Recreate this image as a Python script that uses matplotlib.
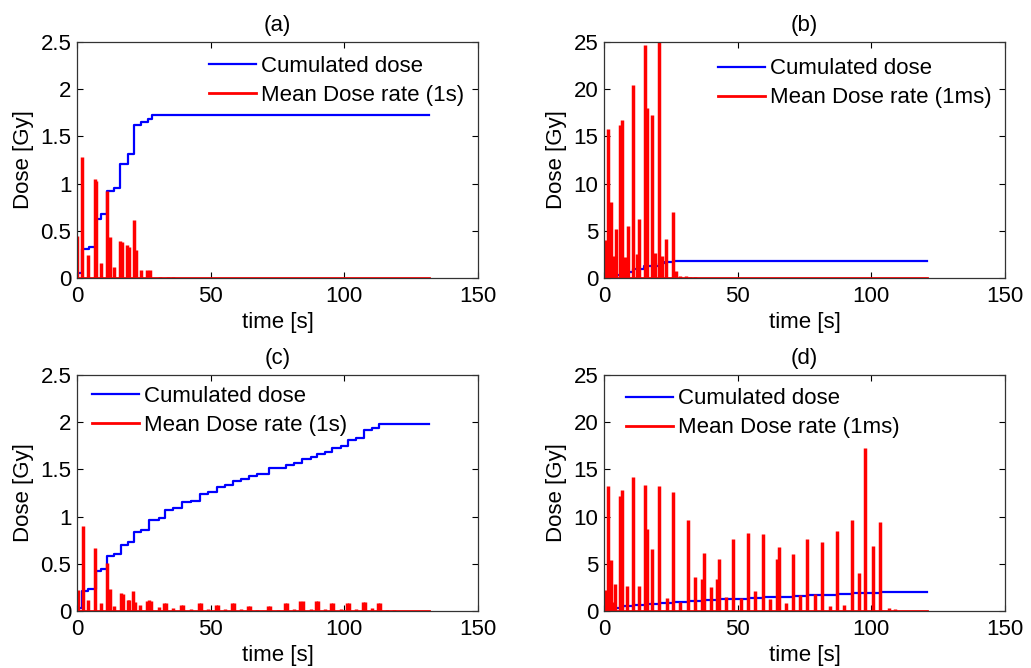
import matplotlib
matplotlib.use("Agg")
import matplotlib.pyplot as plt
import numpy as np

plt.rcParams['font.family'] = ['Liberation Sans', 'DejaVu Sans']
FS = 16

# ---------------- data ----------------
# (a) 1 s mean dose rate, first irradiation
a_rate_t = [0, 2, 4.2, 6.8, 7.2, 9, 11.4, 12.2, 14, 16, 16.8, 18.8, 19.6, 21.4, 22.1, 24, 26.3, 27.3, 31, 34, 36]
a_rate_v = [0.45, 1.28, 0.24, 1.05, 1.03, 0.16, 0.92, 0.43, 0.12, 0.39, 0.38, 0.35, 0.33, 0.61, 0.30, 0.08, 0.09, 0.09, 0.015, 0.015, 0.01]
a_end = 131.8
a_cum_t = [0, 2, 4.5, 7, 9, 11.4, 14, 16, 19, 21.4, 24, 26.5, 28, 131.8]
a_cum_v = [0.05, 0.31, 0.33, 0.63, 0.68, 0.92, 0.95, 1.21, 1.31, 1.62, 1.655, 1.68, 1.73, 1.73]

# (b) 1 ms mean dose rate, first irradiation
b_rate_t = [0.4, 1.6, 2.6, 3.7, 4.5, 6.0, 6.6, 7.9, 8.9, 11.0, 12.2, 13.2, 15.3, 16.2, 18.0, 19.1, 20.6, 21.6, 23.2, 25.9, 26.9, 28.5, 30.5, 32, 34]
b_rate_v = [4.0, 15.8, 8.0, 2.3, 5.2, 16.2, 16.7, 2.2, 5.5, 20.4, 2.5, 6.2, 24.7, 18.0, 17.3, 2.6, 26.0, 2.3, 4.1, 7.0, 0.7, 0.25, 0.2, 0.15, 0.15]
b_end = 120.7
b_cum_t = [0, 2, 7, 11, 15, 20.5, 23, 26, 120.7]
b_cum_v = [0.15, 0.35, 0.67, 0.95, 1.25, 1.6, 1.7, 1.82, 1.82]

# (c) 1 s mean dose rate, second irradiation
c_rate_t = [0.2, 2.1, 4.2, 6.8, 9, 11.4, 12.3, 14, 16.3, 17.1, 19.0, 19.6, 21.1, 21.8, 23.6, 26.2, 27.0, 27.8, 30.6,
            32.6, 33.4, 36, 39.0, 39.8, 42.5, 45.5, 46.3, 49, 52.0, 52.8, 55.5, 57.8, 58.6, 61.5, 63.8, 64.6, 67.5,
            71.3, 72.1, 75, 77.9, 78.7, 81, 83.6, 84.4, 87.4, 89.5, 90.3, 92.9, 95.0, 95.8, 98.6, 101.1, 101.9, 104.5,
            107.0, 107.8, 110.2, 112.7, 113.5, 115.9, 118.6]
c_rate_v = [0.22, 0.90, 0.12, 0.67, 0.08, 0.51, 0.23, 0.05, 0.19, 0.18, 0.12, 0.12, 0.21, 0.10, 0.06, 0.11, 0.12, 0.11, 0.04,
            0.08, 0.08, 0.03, 0.06, 0.06, 0.02, 0.08, 0.08, 0.02, 0.06, 0.06, 0.02, 0.08, 0.08, 0.02, 0.05, 0.05, 0.01,
            0.05, 0.05, 0.01, 0.09, 0.09, 0.02, 0.11, 0.11, 0.02, 0.11, 0.11, 0.02, 0.09, 0.09, 0.02, 0.09, 0.09, 0.02,
            0.10, 0.10, 0.03, 0.08, 0.08, 0.015, 0.01]
c_end = 131.8
c_cum_t = [0, 2, 4.2, 7, 9, 11.4, 14, 16.5, 19, 21.4, 24, 27, 30.6, 33, 36, 39.4, 42.5, 46, 49, 52.4, 55.5, 58.2,
           61.5, 64.2, 67.5, 71.7, 75, 78.3, 81, 84, 87.4, 89.9, 92.9, 95.4, 98.6, 101.5, 104.5, 107.4, 110.2, 113.1, 131.8]
c_cum_v = [0.03, 0.21, 0.23, 0.42, 0.44, 0.58, 0.60, 0.70, 0.73, 0.84, 0.86, 0.96, 0.98, 1.07, 1.09, 1.15, 1.17, 1.24, 1.26,
           1.31, 1.33, 1.38, 1.40, 1.43, 1.45, 1.51, 1.52, 1.55, 1.57, 1.61, 1.63, 1.66, 1.68, 1.73, 1.75, 1.81, 1.83,
           1.92, 1.94, 1.98, 1.98]

# (d) 1 ms mean dose rate, second irradiation
d_rate_t = [0.4, 1.6, 2.5, 3.3, 4.1, 6.0, 6.6, 8.7, 11.0, 13.2, 15.3, 16.2, 18.0, 20.6, 23.4, 25.9, 28.4, 31.5, 34.0,
            36.8, 37.3, 39.9, 42.4, 43.1, 45.6, 48.1, 51.1, 53.8, 56.5, 59.6, 62.1, 64.8, 65.5, 68.0, 70.6, 73.4,
            76.1, 79.0, 81.7, 84.4, 87.1, 89.9, 92.7, 95.2, 97.7, 100.6, 103.3, 106.5, 109]
d_rate_v = [2.2, 13.2, 5.4, 1.0, 2.9, 12.2, 12.8, 2.6, 14.2, 2.6, 13.4, 8.7, 6.6, 13.2, 1.4, 12.6, 1.0, 9.6, 3.6,
            3.4, 6.1, 2.5, 3.4, 5.5, 1.5, 7.6, 1.4, 8.3, 2.1, 8.2, 1.3, 5.5, 6.8, 0.9, 6.0, 1.7,
            7.6, 1.8, 7.3, 0.5, 8.5, 0.6, 9.6, 4.0, 17.3, 6.9, 9.4, 0.3, 0.2]
d_end = 120.7
d_cum_t = [0, 2, 7, 11, 16, 21, 26, 31.5, 37, 43, 48, 54, 59.6, 65.5, 70.6, 76, 81.7, 87, 92.7, 97.7, 103.3, 120.7]
d_cum_v = [0.15, 0.3, 0.5, 0.62, 0.72, 0.82, 0.92, 1.05, 1.13, 1.22, 1.32, 1.4, 1.47, 1.53, 1.6, 1.66, 1.73, 1.8, 1.86, 1.93, 1.98, 1.98]

panels = [
    dict(title='(a)', rt=a_rate_t, rv=a_rate_v, end=a_end, ct=a_cum_t, cv=a_cum_v, ymax=2.5,
         yticks=[0, 0.5, 1, 1.5, 2, 2.5], ylabels=['0', '0.5', '1', '1.5', '2', '2.5'],
         rate_label='Mean Dose rate (1s)', pos=(77, 42), leg=(209, 56)),
    dict(title='(b)', rt=b_rate_t, rv=b_rate_v, end=b_end, ct=b_cum_t, cv=b_cum_v, ymax=25,
         yticks=[0, 5, 10, 15, 20, 25], ylabels=['0', '5', '10', '15', '20', '25'],
         rate_label='Mean Dose rate (1ms)', pos=(604, 42), leg=(718, 58.5)),
    dict(title='(c)', rt=c_rate_t, rv=c_rate_v, end=c_end, ct=c_cum_t, cv=c_cum_v, ymax=2.5,
         yticks=[0, 0.5, 1, 1.5, 2, 2.5], ylabels=['0', '0.5', '1', '1.5', '2', '2.5'],
         rate_label='Mean Dose rate (1s)', pos=(77, 375), leg=(92, 386)),
    dict(title='(d)', rt=d_rate_t, rv=d_rate_v, end=d_end, ct=d_cum_t, cv=d_cum_v, ymax=25,
         yticks=[0, 5, 10, 15, 20, 25], ylabels=['0', '5', '10', '15', '20', '25'],
         rate_label='Mean Dose rate (1ms)', pos=(604, 375), leg=(626, 388.5)),
]

W, H = 1031, 668
fig = plt.figure(figsize=(W / 100, H / 100), dpi=100)
AW, AH = 401, 236

for p in panels:
    x0, y0 = p['pos']
    ax = fig.add_axes([x0 / W, 1 - (y0 + AH) / H, AW / W, AH / H])
    ax.plot(p['ct'], p['cv'], color='#0000ff', lw=1.6, drawstyle='steps-post', label='Cumulated dose')
    ax.plot([0, p['end']], [0, 0], color='#ff0000', lw=2.0, label=p['rate_label'])
    ax.vlines(p['rt'], 0, p['rv'], color='#ff0000', lw=2.5)
    ax.set_xlim(0, 150)
    ax.set_ylim(0, p['ymax'])
    ax.set_xticks([0, 50, 100, 150])
    ax.set_xticklabels(['0', '50', '100', '150'])
    ax.set_yticks(p['yticks'])
    ax.set_yticklabels(p['ylabels'])
    ax.tick_params(direction='in', length=4, width=0.8, top=True, right=True,
                   labelsize=FS, colors='black')
    ax.tick_params(axis='x', pad=5.5)
    ax.tick_params(axis='y', pad=4.0)
    for s in ax.spines.values():
        s.set_linewidth(0.9)
        s.set_color('#333333')
    ax.set_title(p['title'], fontsize=FS, pad=8)
    ax.set_xlabel('time [s]', fontsize=FS, labelpad=4)
    ax.set_ylabel('Dose [Gy]', fontsize=FS, labelpad=5)
    lx, ly = p['leg']
    ax.legend(loc='upper left', bbox_to_anchor=(lx / W, 1 - ly / H), bbox_transform=fig.transFigure,
              frameon=False, fontsize=FS, handlelength=2.1, handletextpad=0.25,
              labelspacing=0.36, borderpad=0, borderaxespad=0)

fig.savefig('out.png', dpi=100)
